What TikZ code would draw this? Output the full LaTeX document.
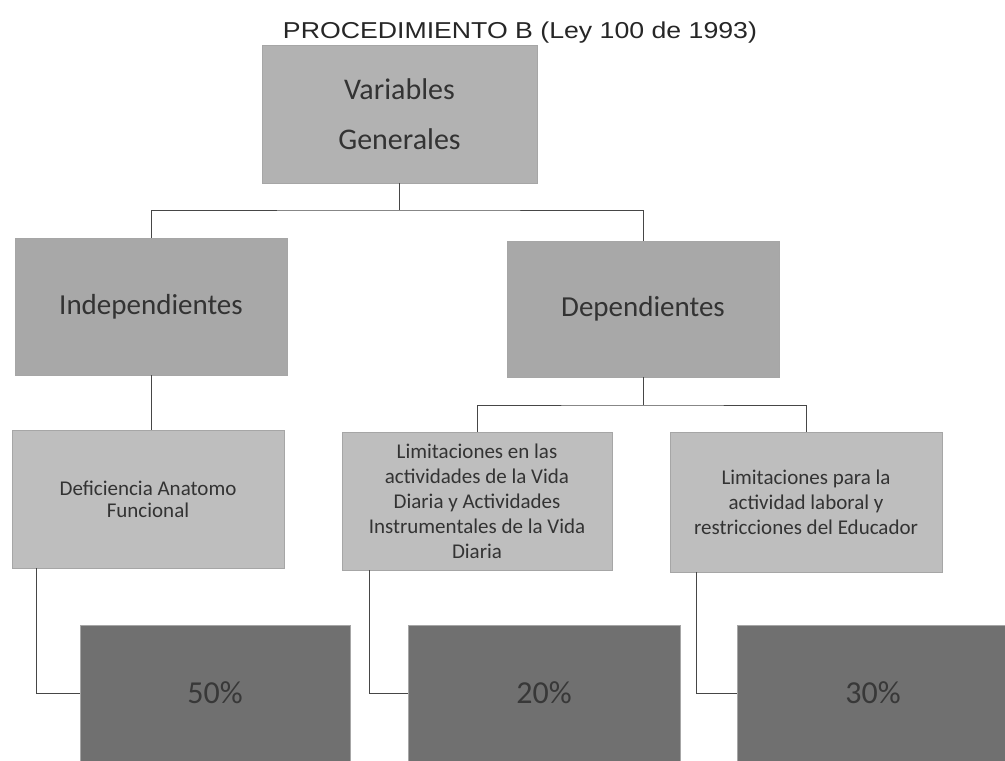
\documentclass[tikz,border=0pt]{standalone}
\usepackage{fontspec}
\setmainfont{Carlito}
\newfontfamily\titlefont{Liberation Sans}
\definecolor{cajaA}{RGB}{178,178,178}
\definecolor{cajaB}{RGB}{168,168,168}
\definecolor{cajaC}{RGB}{190,190,190}
\definecolor{cajaD}{RGB}{112,112,112}
\definecolor{linea}{RGB}{70,70,70}
\begin{document}
\begin{tikzpicture}[x=1pt,y=1pt]
		\tikzstyle{every node}+=[inner sep=0pt]
		\tikzstyle{caja}=[rectangle, draw=gray!70, line width=0.6pt, align=center, text=black!80]
		\tikzstyle{conector}=[draw=linea, line width=0.8pt]
		\useasboundingbox (0,0) rectangle (1005,-761);
		\node [font=\fontsize{23}{26}\selectfont\titlefont, text=black!85] (titulo) at (520,-33) {\scalebox{1.16}[1]{PROCEDIMIENTO B (Ley 100 de 1993)}};
		\node [caja, fill=cajaA, minimum width=275, minimum height=138, font=\fontsize{30}{50}\selectfont] (gen) at (399.5,-114) {Variables\\Generales};
		\node [caja, fill=cajaB, minimum width=272, minimum height=137, font=\fontsize{29}{34}\selectfont] (indep) at (151,-306.5) {Independientes};
		\node [caja, fill=cajaB, minimum width=272, minimum height=136, font=\fontsize{29}{34}\selectfont] (dep) at (643,-309) {Dependientes};
		\node [caja, fill=cajaC, minimum width=272, minimum height=138, font=\fontsize{21}{22}\selectfont] (defic) at (148,-499) {Deficiencia Anatomo\\Funcional};
		\node [caja, fill=cajaC, minimum width=270, minimum height=138, font=\fontsize{21}{25}\selectfont] (vida) at (477,-501) {Limitaciones en las\\actividades de la Vida\\Diaria y Actividades\\Instrumentales de la Vida\\Diaria};
		\node [caja, fill=cajaC, minimum width=272, minimum height=140, font=\fontsize{21}{25}\selectfont] (laboral) at (806,-502) {Limitaciones para la\\actividad laboral y\\restricciones del Educador};
		\node [caja, fill=cajaD, minimum width=270, minimum height=136, font=\fontsize{32}{36}\selectfont, text=black!78] (pctA) at (215,-693) {50\%};
		\node [caja, fill=cajaD, minimum width=272, minimum height=136, font=\fontsize{32}{36}\selectfont, text=black!78] (pctB) at (544,-693) {20\%};
		\node [caja, fill=cajaD, minimum width=272, minimum height=136, font=\fontsize{32}{36}\selectfont, text=black!78] (pctC) at (873,-693) {30\%};
		\coordinate (j1) at (399.5,-210);
		\coordinate (j2) at (643,-405);
		\draw [conector] (gen.south) -- (j1);
		\draw [conector] (indep.north) |- (j1) -| (dep.north);
		\draw [conector] (indep.south) -- (indep.south |- defic.north);
		\draw [conector] (dep.south) -- (j2);
		\draw [conector] (vida.north) |- (j2) -| (laboral.north);
		\draw [conector] ([xshift=25]defic.south west) |- (pctA.west);
		\draw [conector] ([xshift=28]vida.south west) |- (pctB.west);
		\draw [conector] ([xshift=27]laboral.south west) |- (pctC.west);
	\end{tikzpicture}
\end{document}
